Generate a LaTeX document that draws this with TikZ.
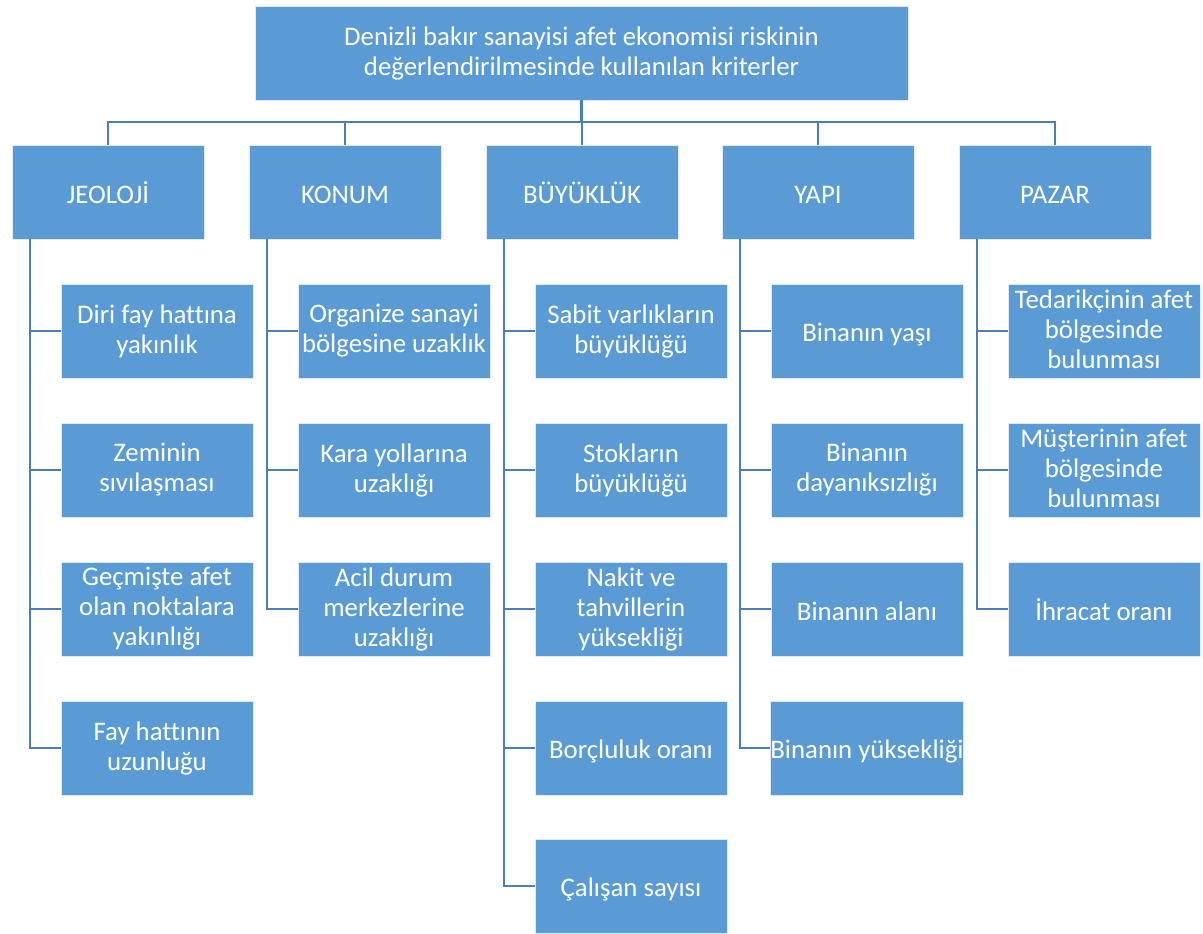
\documentclass[tikz,border=0pt]{standalone}
\usepackage{fontspec}
\setmainfont[Ligatures={NoCommon}]{Carlito}
\definecolor{boxblue}{HTML}{5B9BD5}
\definecolor{lineblue}{HTML}{4A7EB4}
\newcommand{\boxstrut}{\rule[-4pt]{0pt}{30pt}}
\begin{document}
\begin{tikzpicture}[x=1pt,y=-1pt,
  box/.style={draw=white!80!boxblue, line width=0.8pt, fill=boxblue, text=white,
    minimum width=192pt, minimum height=94pt, inner sep=0pt, align=center,
    font=\fontsize{26.8}{30}\selectfont,
    execute at begin node=\boxstrut, execute at end node=\boxstrut},
  conn/.style={draw=lineblue, line width=2.6pt}]
\useasboundingbox (0,0) rectangle (1203,934);
\node[box, minimum width=653pt] (top) at (581.5,53) {Denizli bakır sanayisi afet ekonomisi riskinin\\değerlendirilmesinde kullanılan kriterler};
% parents
\node[box] (p1) at (108,192) {JEOLOJİ};
\node[box] (p2) at (345,192) {KONUM};
\node[box] (p3) at (582,192) {BÜYÜKLÜK};
\node[box] (p4) at (818,192) {YAPI};
\node[box] (p5) at (1055,192) {PAZAR};
% children JEOLOJI
\node[box] (c11) at (157,331) {Diri fay hattına\\yakınlık};
\node[box] (c12) at (157,470) {Zeminin\\sıvılaşması};
\node[box] (c13) at (157,609) {Geçmişte afet\\olan noktalara\\yakınlığı};
\node[box] (c14) at (157,748) {Fay hattının\\uzunluğu};
% KONUM
\node[box] (c21) at (394,331) {Organize sanayi\\bölgesine uzaklık};
\node[box] (c22) at (394,470) {Kara yollarına\\uzaklığı};
\node[box] (c23) at (394,609) {Acil durum\\merkezlerine\\uzaklığı};
% BUYUKLUK
\node[box] (c31) at (631,331) {Sabit varlıkların\\büyüklüğü};
\node[box] (c32) at (631,470) {Stokların\\büyüklüğü};
\node[box] (c33) at (631,609) {Nakit ve\\tahvillerin\\yüksekliği};
\node[box] (c34) at (631,748) {Borçluluk oranı};
\node[box] (c35) at (631,886) {Çalışan sayısı};
% YAPI
\node[box] (c41) at (867,331) {Binanın yaşı};
\node[box] (c42) at (867,470) {Binanın\\dayanıksızlığı};
\node[box] (c43) at (867,609) {Binanın alanı};
\node[box] (c44) at (867,748) {Binanın yüksekliği};
% PAZAR
\node[box] (c51) at (1104,331) {Tedarikçinin afet\\bölgesinde\\bulunması};
\node[box] (c52) at (1104,470) {Müşterinin afet\\bölgesinde\\bulunması};
\node[box] (c53) at (1104,609) {İhracat oranı};
% top connectors
\coordinate (bus) at (581.5,122);
\foreach \p in {p1,p2,p3,p4,p5}{
  \draw[conn] (top.south) -- (bus) -| (\p.north);
}
% child connectors
\foreach \p/\kids in {p1/{c11,c12,c13,c14}, p2/{c21,c22,c23}, p3/{c31,c32,c33,c34,c35}, p4/{c41,c42,c43,c44}, p5/{c51,c52,c53}}{
  \foreach \c in \kids {
    \draw[conn] ([xshift=-78pt]\p.south) |- (\c.west);
  }
}
\end{tikzpicture}
\end{document}
